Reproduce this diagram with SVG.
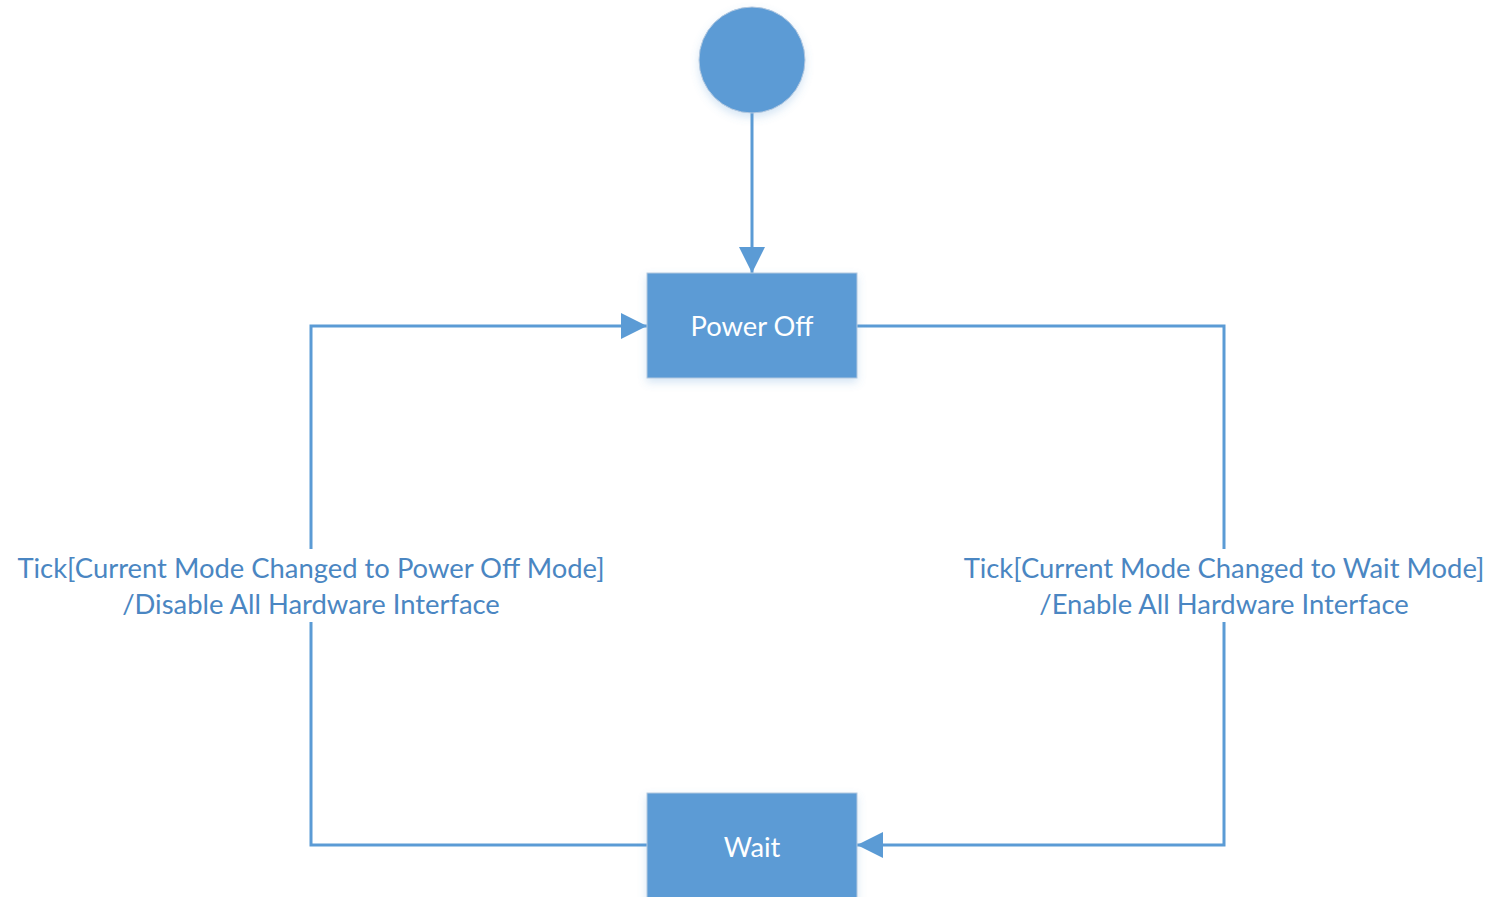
<svg xmlns="http://www.w3.org/2000/svg" width="1493" height="897" viewBox="0 0 1493 897">
<style>
.node{fill:#5B9BD5;stroke:#B4C9E0;stroke-width:1;filter:url(#sh)}
.conn{fill:none;stroke:#5B9BD5;stroke-width:3}
.nt{font-family:Lato,"Open Sans",sans-serif;font-size:27.3px;fill:#FFFFFF;text-anchor:middle}
.lt{font-family:Lato,"Open Sans",sans-serif;font-size:27.4px;fill:#4A86C2;text-anchor:middle}
.bg{fill:#FFFFFF}
</style>
<defs>
<filter id="sh" x="-20%" y="-20%" width="140%" height="150%">
<feGaussianBlur in="SourceAlpha" stdDeviation="4"/>
<feOffset dx="0" dy="4" result="b"/>
<feFlood flood-color="#5B9BD5" flood-opacity="0.25"/>
<feComposite in2="b" operator="in"/>
<feMerge><feMergeNode/><feMergeNode in="SourceGraphic"/></feMerge>
</filter>
<marker id="arr" viewBox="0 0 26 26" refX="26" refY="13" markerWidth="26" markerHeight="26" markerUnits="userSpaceOnUse" orient="auto">
<path d="M0,0 L26,13 L0,26 Z" fill="#5B9BD5"/>
</marker>
</defs>
<g id="connectors">
<path class="conn" d="M752,113 L752,273" marker-end="url(#arr)"/>
<path class="conn" d="M647,845 L311,845 L311,326 L647,326" marker-end="url(#arr)"/>
<path class="conn" d="M857,326 L1224,326 L1224,845 L857,845" marker-end="url(#arr)"/>
<rect class="bg" x="14" y="549" width="594" height="73"/>
<rect class="bg" x="958" y="549" width="532" height="73"/>
<text class="lt" x="311" y="578">Tick[Current Mode Changed to Power Off Mode]</text>
<text class="lt" x="311" y="614">/Disable All Hardware Interface</text>
<text class="lt" x="1224" y="578">Tick[Current Mode Changed to Wait Mode]</text>
<text class="lt" x="1224" y="614">/Enable All Hardware Interface</text>
</g>
<g id="initial">
<circle class="node" cx="752" cy="60" r="53" stroke="#A8B4C4"/>
</g>
<g id="power-off">
<rect class="node" x="647" y="273" width="210" height="105"/>
<text class="nt" x="752" y="336">Power Off</text>
</g>
<g id="wait">
<rect class="node" x="647" y="793" width="210" height="110"/>
<text class="nt" x="752" y="857">Wait</text>
</g>
</svg>
